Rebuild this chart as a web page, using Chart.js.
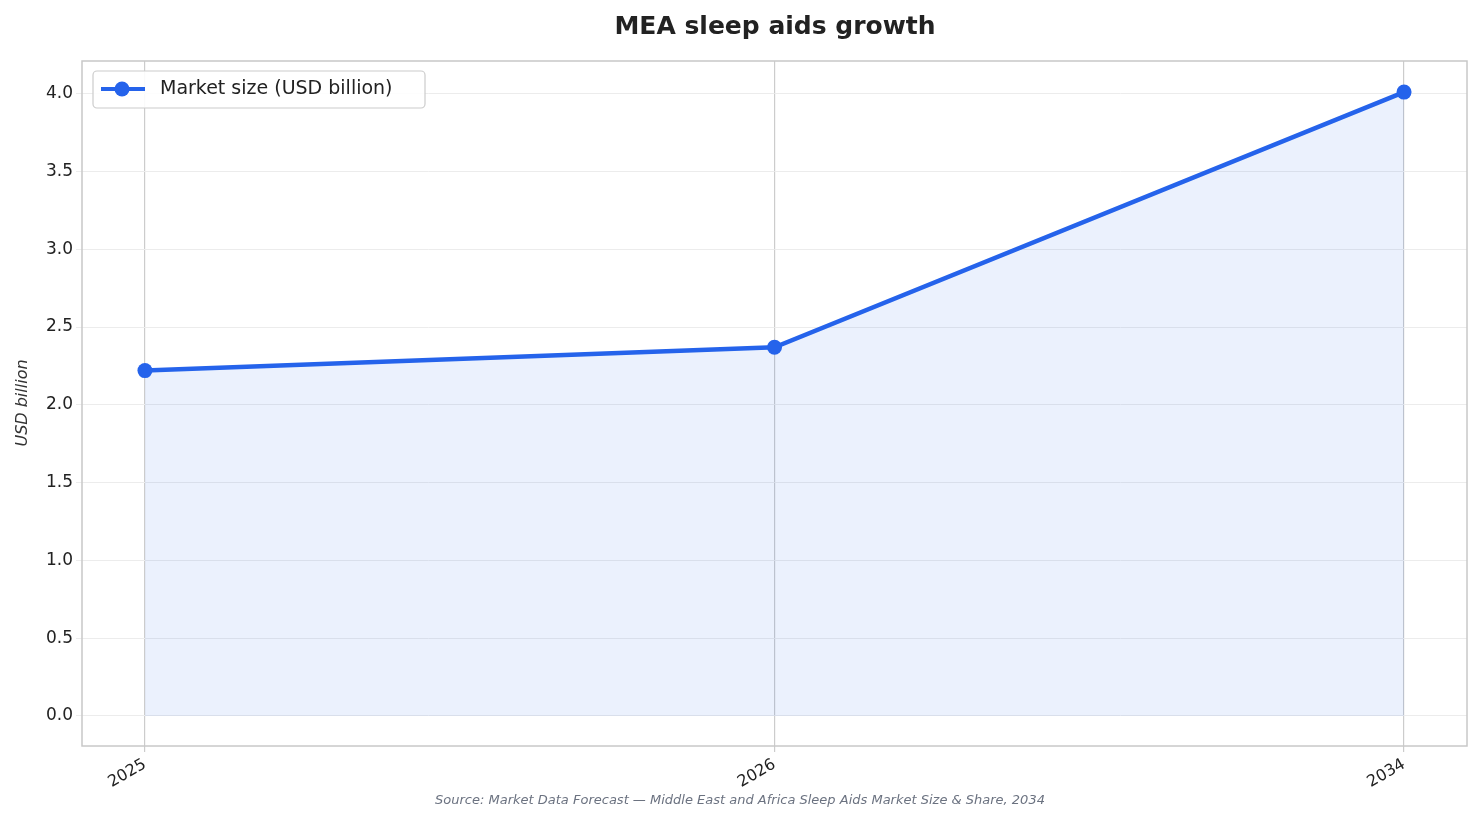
<!DOCTYPE html>
<html><head><meta charset="utf-8">
<script src="https://cdn.jsdelivr.net/npm/chart.js@4"></script>
<style>body{margin:0;background:#fff}</style></head>
<body><canvas id="c" width="1482" height="824"></canvas>
<script>
const categories = ["2025", "2026", "2034"];
const values = [2.22, 2.37, 4.01];
const yTicks = [0, 0.5, 1, 1.5, 2, 2.5, 3, 3.5, 4];
const F = "'DejaVu Sans', sans-serif";

const deco = {
  id: 'deco',
  afterDraw(chart) {
    const {ctx, chartArea: a} = chart;
    ctx.save();
    ctx.strokeStyle = '#c8c8c8'; ctx.lineWidth = 1.5;
    ctx.strokeRect(a.left, a.top, a.right - a.left, a.bottom - a.top);
    ctx.fillStyle = '#222'; ctx.font = "bold 25px " + F; ctx.textAlign = 'center'; ctx.textBaseline = 'middle';
    ctx.fillText('MEA sleep aids growth', 775, 27);
    ctx.fillStyle = '#6b7280'; ctx.font = "italic 13px " + F;
    ctx.fillText('Source: Market Data Forecast — Middle East and Africa Sleep Aids Market Size & Share, 2034', 740, 801);
    ctx.save(); ctx.translate(23, 403); ctx.rotate(-Math.PI/2);
    ctx.fillStyle = '#333'; ctx.font = "italic 16px " + F; ctx.fillText('USD billion', 0, 0); ctx.restore();
    // legend
    ctx.fillStyle = 'rgba(255,255,255,0.9)'; ctx.strokeStyle = '#ccc'; ctx.lineWidth = 1.2;
    ctx.beginPath(); ctx.roundRect(93, 71, 332, 37, 4); ctx.fill(); ctx.stroke();
    ctx.strokeStyle = '#2563eb'; ctx.lineWidth = 4; ctx.beginPath(); ctx.moveTo(101, 89); ctx.lineTo(145, 89); ctx.stroke();
    ctx.fillStyle = '#2563eb'; ctx.beginPath(); ctx.arc(122, 89, 7.5, 0, 2*Math.PI); ctx.fill();
    ctx.fillStyle = '#222'; ctx.font = "19px " + F; ctx.textAlign = 'left';
    ctx.fillText('Market size (USD billion)', 160, 89);
    ctx.restore();
  }
};

new Chart(document.getElementById('c'), {
  type: 'line',
  data: { datasets: [{
    data: values.map((v, i) => ({x: i, y: v})),
    borderColor: '#2563eb', borderWidth: 4.5,
    backgroundColor: 'rgba(37,99,235,0.09)', fill: 'origin',
    pointRadius: 7.5, pointBackgroundColor: '#2563eb', pointBorderWidth: 0, tension: 0
  }]},
  options: {
    responsive: false, animation: false,
    layout: { padding: { top: 61, right: 15, left: 0, bottom: 0 } },
    plugins: { legend: { display: false }, tooltip: { enabled: false } },
    scales: {
      x: {
        type: 'linear', min: -0.1, max: 2.1,
        afterBuildTicks: s => { s.ticks = categories.map((c, i) => ({value: i})); },
        afterFit: s => { s.height = 78; },
        grid: { color: '#cccccc', lineWidth: 1.2, tickLength: 6 },
        border: { display: false },
        ticks: { callback: (v) => categories[v], maxRotation: 30, minRotation: 30, color: '#222', font: { size: 16, family: F } }
      },
      y: {
        min: -0.193, max: 4.21,
        afterBuildTicks: s => { s.ticks = yTicks.map(v => ({value: v})); },
        afterFit: s => { s.width = 82; },
        grid: { color: '#ececec', lineWidth: 1, tickLength: 6 },
        border: { display: false },
        ticks: { callback: v => v.toFixed(1), color: '#222', font: { size: 17, family: F } }
      }
    }
  },
  plugins: [deco]
});
</script></body></html>
